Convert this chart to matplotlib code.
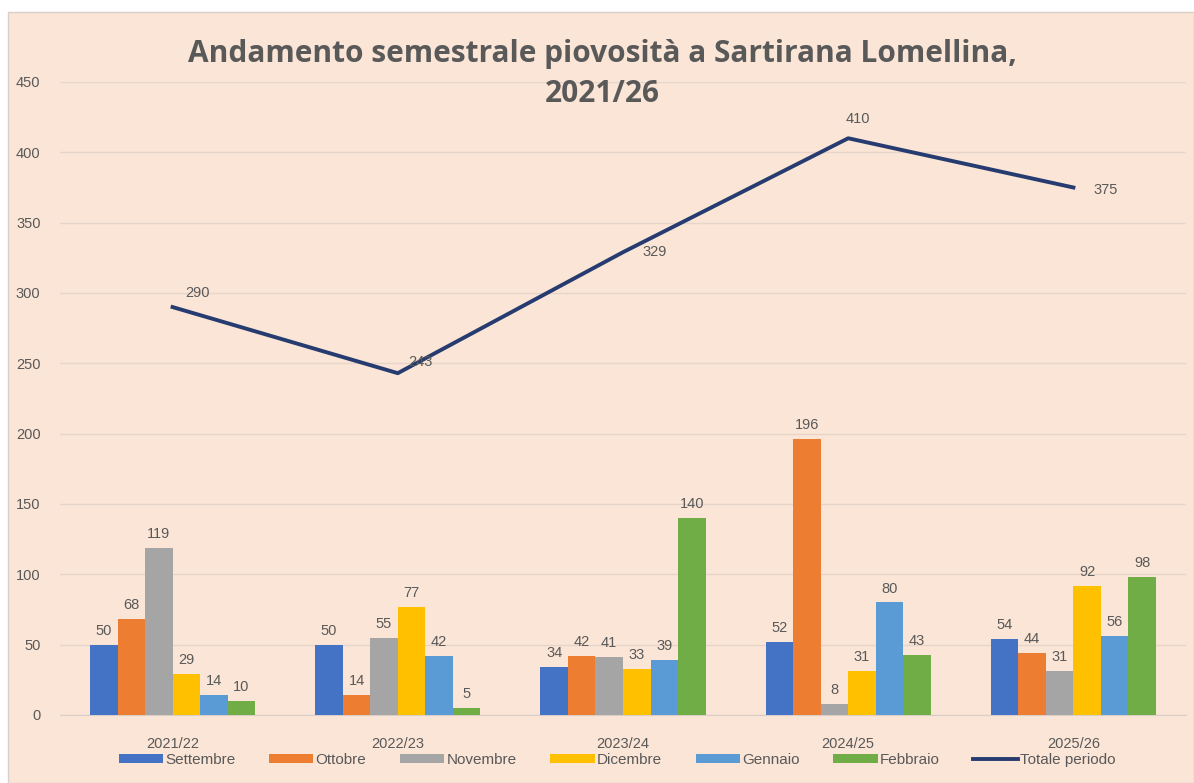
import matplotlib
matplotlib.use("Agg")
import matplotlib.pyplot as plt
from matplotlib import font_manager
from matplotlib.patches import Rectangle
import numpy as np

# ---------------- data ----------------
periods = ["2021/22", "2022/23", "2023/24", "2024/25", "2025/26"]
months = ["Settembre", "Ottobre", "Novembre", "Dicembre", "Gennaio", "Febbraio"]
settembre = [50, 50, 34, 52, 54]
ottobre = [68, 14, 42, 196, 44]
novembre = [119, 55, 41, 8, 31]
dicembre = [29, 77, 33, 31, 92]
gennaio = [14, 42, 39, 80, 56]
febbraio = [10, 5, 140, 43, 98]
totale = [290, 243, 329, 410, 375]
total_label = "Totale periodo"
title = "Andamento semestrale piovosità a Sartirana Lomellina,\n2021/26"

series = [settembre, ottobre, novembre, dicembre, gennaio, febbraio]
colors = ["#4472C4", "#ED7D31", "#A5A5A5", "#FFC000", "#5B9BD5", "#70AD47"]
line_color = "#263C70"
bg = "#FBE5D6"
txt = "#595959"

available = {f.name for f in font_manager.fontManager.ttflist}
font = "Liberation Sans" if "Liberation Sans" in available else "DejaVu Sans"
title_font = "Open Sans" if "Open Sans" in available else font
plt.rcParams["font.family"] = [font, "DejaVu Sans"]

W, H = 1194, 783
fig = plt.figure(figsize=(W / 100, H / 100), dpi=100, facecolor="white")
fig.patches.append(Rectangle((8 / W, 0), 1 - 8 / W, 1 - 12 / H, transform=fig.transFigure,
                             facecolor=bg, edgecolor="#D9D0CA", linewidth=1.0, zorder=-5))

ax = fig.add_axes([60 / W, (H - 715) / H, (1186 - 60) / W, (715 - 82) / H])
ax.set_facecolor(bg)
ax.patch.set_alpha(0)

x = np.arange(len(periods))
w = 0.1222
handles = []
for i, (vals, c, m) in enumerate(zip(series, colors, months)):
    pos = x + (i - 2.5) * w
    bars = ax.bar(pos, vals, width=w, color=c, label=m, zorder=3)
    ax.bar_label(bars, padding=5, color=txt, fontsize=10.5)
    handles.append(bars)

ln, = ax.plot(x, totale, color=line_color, linewidth=2.8, label=total_label, zorder=4)
handles.append(ln)
offsets = [(18, 10), (16.5, 8), (23, 0), (7, 14), (23, -1.5)]
for xi, yi, off in zip(x, totale, offsets):
    ax.annotate(str(yi), (xi, yi), xytext=off, textcoords="offset points",
                ha="center", va="center", color=txt, fontsize=10.5, zorder=5)

ax.set_xlim(-0.5, len(periods) - 0.5)
ax.set_ylim(0, 450)
ax.set_yticks(np.arange(0, 451, 50))
ax.set_xticks(x)
ax.set_xticklabels(periods)
ax.tick_params(axis="y", length=0, pad=14, labelcolor=txt, labelsize=10.5)
ax.tick_params(axis="x", length=0, pad=16, labelcolor=txt, labelsize=10.5)
ax.grid(axis="y", color="#E6D5CA", linewidth=1.0, zorder=0)
for s in ["top", "right", "left"]:
    ax.spines[s].set_visible(False)
ax.spines["bottom"].set_color("#D9CFC8")

fig.text(602 / W, 1 - 74 / H, title, ha="center", va="center", fontsize=21.5,
         fontweight="bold", color=txt, linespacing=1.42, family=[title_font, "DejaVu Sans"])

labels = months + [total_label]
leg = fig.legend(handles, labels, loc="center", bbox_to_anchor=(617 / W, 1 - 760 / H),
                 ncol=7, frameon=False, fontsize=11, handlelength=2.9, handleheight=0.6,
                 handletextpad=0.15, columnspacing=2.2, labelcolor=txt)

fig.savefig("out.png", dpi=100, facecolor="white")
